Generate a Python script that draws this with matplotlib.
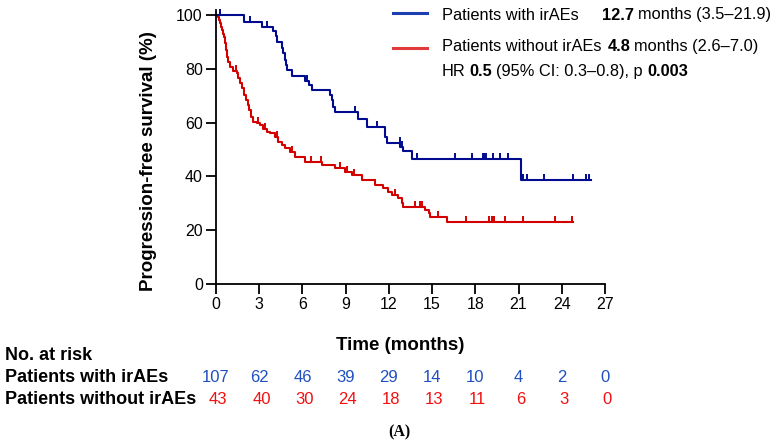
import numpy as np
import matplotlib
matplotlib.use("Agg")
import matplotlib.pyplot as plt
from matplotlib.lines import Line2D
from matplotlib.transforms import blended_transform_factory

plt.rcParams['font.family'] = ['Liberation Sans', 'DejaVu Sans']

# ---- data ----
# patients with irAEs (blue step curve)
blue_t = [0, 1.97, 3.17, 3.98, 4.14, 4.21, 4.56, 4.68, 4.76, 4.84, 4.91, 5.30, 6.18,
          6.46, 6.64, 7.92, 8.03, 8.15, 8.26, 9.88, 10.46, 11.74, 11.85, 12.80, 12.95,
          13.59, 21.18, 26.0]
blue_s = [100, 97.5, 95.4, 94.2, 92.2, 90.1, 87.6, 85.7, 83.3, 81.4, 79.6, 77.5, 75.6,
          74.0, 72.1, 70.3, 68.4, 65.9, 64.1, 61.2, 58.5, 54.8, 52.5, 51.0, 49.6,
          46.3, 38.7, 38.7]
blue_cens_t = [0.3, 2.35, 3.52, 6.3, 9.65, 11.16, 12.75, 12.88, 13.98, 16.6, 17.75, 18.5,
               18.62, 18.75, 19.26, 19.72, 20.25, 21.3, 21.62, 22.78, 24.81, 25.67, 25.9]
blue_cens_s = [100, 97.5, 95.4, 75.6, 64.1, 58.5, 52.5, 51.0, 46.3, 46.3, 46.3, 46.3,
               46.3, 46.3, 46.3, 46.3, 46.3, 38.7, 38.7, 38.7, 38.7, 38.7, 38.7]

# patients without irAEs (red step curve)
red_t = [0, 0.12, 0.21, 0.28, 0.35, 0.44, 0.51, 0.57, 0.63, 0.69, 0.79, 0.86, 0.97, 1.2,
         1.44, 1.55, 1.67, 1.78, 1.97, 2.06, 2.2, 2.29, 2.43, 2.59, 2.82, 3.06, 3.29, 3.52,
         3.75, 4.1, 4.33, 4.56, 4.79, 5.14, 5.49, 6.18, 7.34, 8.26, 8.95, 9.42, 10.12,
         11.04, 11.62, 11.97, 12.2, 12.66, 12.89, 13.0, 14.51, 14.75, 14.86, 16.02, 24.75]
red_s = [100, 99.1, 98.0, 96.9, 95.6, 94.4, 93.1, 91.9, 89.5, 87.0, 84.5, 82.7, 80.8, 79.3,
         78.3, 76.5, 74.6, 72.8, 70.2, 68.4, 66.5, 64.7, 62.2, 60.3, 59.7, 59.1, 57.8, 56.6,
         56.0, 54.7, 52.9, 51.7, 50.4, 49.2, 47.3, 45.5, 44.2, 43.0, 41.8, 40.5, 38.6,
         36.8, 35.5, 34.3, 33.0, 31.8, 30.0, 28.7, 27.5, 26.3, 25.0, 23.1, 23.1]
red_cens_t = [1.4, 2.9, 3.4, 4.2, 5.3, 6.6, 7.3, 8.6, 9.1, 9.6, 11.04, 12.4, 13.82, 14.17,
              14.28, 15.44, 17.36, 18.98, 19.14, 19.3, 20.07, 21.3, 23.54, 24.7]
red_cens_s = [79.3, 59.7, 57.8, 54.7, 49.2, 45.5, 45.5, 43.0, 41.8, 40.5, 36.8, 33.0, 28.7, 28.7,
              28.7, 25.0, 23.1, 23.1, 23.1, 23.1, 23.1, 23.1, 23.1, 23.1]

risk_times = [0, 3, 6, 9, 12, 15, 18, 21, 24, 27]
risk_with = [107, 62, 46, 39, 29, 14, 10, 4, 2, 0]
risk_without = [43, 40, 30, 24, 18, 13, 11, 6, 3, 0]

x_ticks = [0, 3, 6, 9, 12, 15, 18, 21, 24, 27]
y_ticks = [0, 20, 40, 60, 80, 100]

BLUE = '#000b8f'
RED = '#d40000'

W, H = 782, 446


def fx(x):
    return x / W


def fy(y):
    return 1 - y / H


fig = plt.figure(figsize=(W / 100, H / 100), dpi=100)
ax = fig.add_axes([fx(216), fy(284), (605 - 216) / W, (284 - 9.6) / H])

tick_marker = [(0, 0), (0, 1)]  # upward censor tick

ax.plot(red_t, red_s, drawstyle='steps-post', color=RED, lw=1.5, clip_on=False)
ax.plot(red_cens_t, red_cens_s, ls='none', marker=tick_marker, ms=9, mew=1.4,
        color=RED, clip_on=False)
ax.plot(blue_t, blue_s, drawstyle='steps-post', color=BLUE, lw=1.5, clip_on=False)
ax.plot(blue_cens_t, blue_cens_s, ls='none', marker=tick_marker, ms=9, mew=1.4,
        color=BLUE, clip_on=False)

ax.set_xlim(0, 27)
ax.set_ylim(0, 102)
ax.set_xticks(x_ticks)
ax.set_yticks(y_ticks)
ax.spines['top'].set_visible(False)
ax.spines['right'].set_visible(False)
for s in ['left', 'bottom']:
    ax.spines[s].set_linewidth(1.3)
ax.tick_params(direction='out', length=7, width=1.3, labelsize=11.5, pad=2.5)

ax.set_ylabel('Progression-free survival (%)', fontsize=13.5, fontweight='bold')
ax.yaxis.set_label_coords(-0.152, 0.448)
fig.text(fx(400), fy(345), 'Time (months)', fontsize=13.5, fontweight='bold',
         ha='center', va='center')

# legend block
fig.add_artist(Line2D([fx(393), fx(427)], [fy(13.3), fy(13.3)], color='#1b3fb0', lw=2.2))
fig.add_artist(Line2D([fx(393), fx(427)], [fy(47.5), fy(47.5)], color='#e03a3a', lw=2.2))
leg_fs = 11.8
renderer = fig.canvas.get_renderer()


def text_row(x0, y, pieces):
    # pieces: (text, bold, gap before in px)
    x = x0
    for txt, bold, gap in pieces:
        x += gap
        t = fig.text(fx(x), fy(y), txt, fontsize=leg_fs,
                     fontweight='bold' if bold else 'normal', va='center')
        x = t.get_window_extent(renderer).x1


text_row(442, 15, [('Patients with irAEs', False, 0), ('12.7', True, 23),
                   ('months (3.5–21.9)', False, 4)])
text_row(442, 46.7, [('Patients without irAEs', False, 0), ('4.8', True, 6),
                     ('months (2.6–7.0)', False, 4)])
text_row(442, 71.5, [('HR', False, 0), ('0.5', True, 4),
                     ('(95% CI: 0.3–0.8), p', False, 4), ('0.003', True, 4)])

# number at risk table
fig.text(fx(5), fy(356), 'No. at risk', fontsize=13, fontweight='bold', va='center')
fig.text(fx(5), fy(377), 'Patients with irAEs', fontsize=13, fontweight='bold', va='center')
fig.text(fx(5), fy(399), 'Patients without irAEs', fontsize=13, fontweight='bold', va='center')
trans = blended_transform_factory(ax.transData, fig.transFigure)
for t, n in zip(risk_times, risk_with):
    ax.text(t, fy(377), str(n), transform=trans, color='#1f4fc0', fontsize=12,
            ha='center', va='center')
for t, n in zip(risk_times, risk_without):
    ax.text(t + 0.15, fy(399), str(n), transform=trans, color='#f01010', fontsize=12,
            ha='center', va='center')

fig.text(fx(399), fy(432), '(A)', fontsize=11.5, fontweight='bold', family='Liberation Serif',
         ha='center', va='center')

fig.savefig('out.png', dpi=100)
